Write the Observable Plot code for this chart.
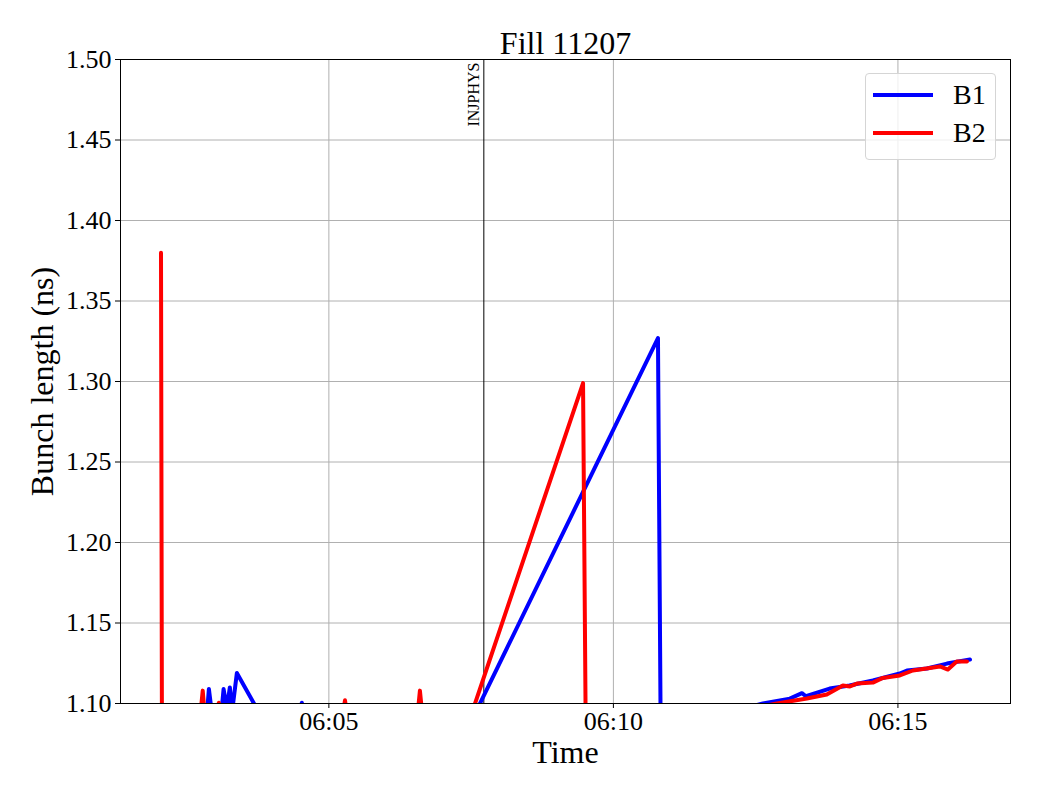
<!DOCTYPE html>
<html>
<head>
<meta charset="utf-8">
<script src="https://cdn.jsdelivr.net/npm/d3@7"></script>
<script src="https://cdn.jsdelivr.net/npm/@observablehq/plot@0.6"></script>
<style>
  html, body { margin: 0; padding: 0; background: #fff; }
  #wrap { position: relative; width: 1040px; height: 800px; font-family: "Liberation Serif", "DejaVu Serif", serif; }
  #legend { position: absolute; left: 865px; top: 73px; width: 131px; height: 87px; border: 1px solid #d5d5d5; border-radius: 4px; background: rgba(255,255,255,0.8); box-sizing: border-box; }
  .row { position: absolute; left: 7px; height: 30px; display: flex; align-items: center; }
  .row span { font-size: 28px; margin-left: 20px; color: #000; }
</style>
</head>
<body>
<div id="wrap"></div>
<script>
// ---- data (seconds after 06:00:00, bunch length in ns) ----
const title = "Fill 11207";
const xLabel = "Time";
const yLabel = "Bunch length (ns)";
const seriesNames = ["B1", "B2"];
const seriesColors = ["#0000ff", "#ff0000"];

const b1Sec = [123, 160, 171, 173.5, 177.5, 181, 186, 189, 192.4, 195.6, 198, 203, 222, 238, 268, 271.5, 275, 330, 418, 647, 650, 691, 757.6, 786, 798.8, 803, 828, 849, 873.6, 902, 909.5, 930.6, 951.7, 976];
const b1Val = [1.08, 1.085, 1.09, 1.109, 1.09, 1.085, 1.09, 1.109, 1.097, 1.110, 1.095, 1.119, 1.099, 1.09, 1.09, 1.1005, 1.09, 1.09, 1.05, 1.327, 1.07, 1.090, 1.100, 1.1030, 1.1064, 1.1045, 1.1093, 1.1112, 1.1143, 1.1186, 1.1205, 1.1217, 1.1248, 1.1273];

const b2Sec = [123, 124, 164, 167, 169.5, 180, 184, 188, 250, 314, 317, 320, 393, 396, 399, 425.5, 568, 571, 638.5, 772.4, 804, 825, 842, 849.4, 856.8, 873.6, 884, 902, 915.8, 944.3, 952.7, 962, 972.8];
const b2Val = [1.380, 1.08, 1.09, 1.108, 1.09, 1.09, 1.1005, 1.09, 1.09, 1.09, 1.102, 1.09, 1.09, 1.108, 1.09, 1.05, 1.299, 1.07, 1.085, 1.100, 1.1031, 1.1056, 1.1112, 1.1106, 1.1124, 1.1130, 1.1159, 1.1174, 1.1205, 1.1230, 1.1211, 1.1261, 1.1261];

const eventSec = [463.4];
const eventLabels = ["INJPHYS"];

const xDomainSec = [80.3, 1018.7];
const yDomain = [1.10, 1.50];
const yTicks = [1.10, 1.15, 1.20, 1.25, 1.30, 1.35, 1.40, 1.45, 1.50];
const xTickSec = [300, 600, 900];

// ---- build ----
const t0 = Date.UTC(2024, 0, 1, 6, 0, 0);
const toDate = s => new Date(t0 + s * 1000);

const rows = [];
b1Sec.forEach((s, i) => rows.push({t: toDate(s), v: b1Val[i], beam: "B1"}));
b2Sec.forEach((s, i) => rows.push({t: toDate(s), v: b2Val[i], beam: "B2"}));
const events = eventSec.map((s, i) => ({t: toDate(s), label: eventLabels[i]}));

const fmt = d3.utcFormat("%H:%M");

const chart = Plot.plot({
  width: 1040,
  height: 800,
  marginLeft: 120,
  marginRight: 30,
  marginTop: 59,
  marginBottom: 97,
  style: {fontFamily: "Liberation Serif, serif", fontSize: "26px", color: "#000", background: "#fff"},
  x: {type: "utc", domain: xDomainSec.map(toDate)},
  y: {domain: yDomain},
  color: {domain: seriesNames, range: seriesColors},
  marks: [
    Plot.gridY(yTicks, {stroke: "#b0b0b0", strokeOpacity: 1, strokeWidth: 1}),
    Plot.gridX(xTickSec.map(toDate), {stroke: "#b0b0b0", strokeOpacity: 1, strokeWidth: 1}),
    Plot.ruleX(events, {x: "t", stroke: "#000", strokeWidth: 1}),
    Plot.text(events, {x: "t", text: "label", frameAnchor: "top", rotate: -90, textAnchor: "end", lineAnchor: "middle", dx: -9.5, dy: 3, fontSize: 16, fill: "#000"}),
    Plot.line(rows, {x: "t", y: "v", z: "beam", stroke: "beam", strokeWidth: 4, strokeLinejoin: "round", clip: true}),
    Plot.frame({stroke: "#000", strokeWidth: 1}),
    Plot.axisY(yTicks, {tickFormat: d3.format(".2f"), tickSize: 5, tickPadding: 4, fontSize: 26, label: null}),
    Plot.axisX(xTickSec.map(toDate), {tickFormat: fmt, tickSize: 5, tickPadding: 3, fontSize: 26, label: null}),
    Plot.text([yLabel], {frameAnchor: "left", rotate: -90, textAnchor: "middle", lineAnchor: "middle", dx: -78, fontSize: 32, fill: "#000"}),
    Plot.text([xLabel], {frameAnchor: "bottom", lineAnchor: "middle", dy: 49, fontSize: 32, fill: "#000"}),
    Plot.text([title], {frameAnchor: "top", lineAnchor: "bottom", dy: -6, fontSize: 32, fill: "#000"})
  ]
});

const wrap = document.getElementById("wrap");
wrap.appendChild(chart);

// legend
const legend = document.createElement("div");
legend.id = "legend";
seriesNames.forEach((name, i) => {
  const row = document.createElement("div");
  row.className = "row";
  row.style.top = (6 + i * 38) + "px";
  row.innerHTML = `<svg width="60" height="8"><line x1="0" y1="4" x2="60" y2="4" stroke="${seriesColors[i]}" stroke-width="4"/></svg><span>${name}</span>`;
  legend.appendChild(row);
});
wrap.appendChild(legend);
</script>
</body>
</html>
